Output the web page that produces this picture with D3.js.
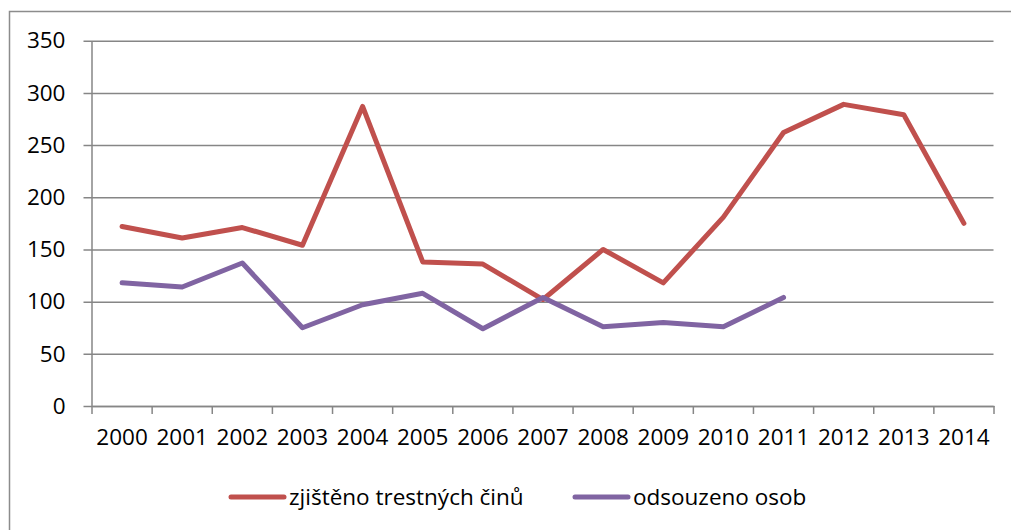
<!DOCTYPE html>
<html>
<head>
<meta charset="utf-8">
<script src="https://cdn.jsdelivr.net/npm/d3@7"></script>
<style>
  body { margin: 0; background: #fff; }
  svg text { font-family: 'Open Sans', sans-serif; fill: #000; }
</style>
</head>
<body>
<div id="chart"></div>
<script>
// data
const years = ['2000', '2001', '2002', '2003', '2004', '2005', '2006', '2007', '2008', '2009', '2010', '2011', '2012', '2013', '2014'];
const crimes = [172, 161, 171, 154, 287, 138, 136, 102, 150, 118, 181, 262, 289, 279, 175];
const convicted = [118, 114, 137, 75, 97, 108, 74, 104, 76, 80, 76, 104];
const yTicks = [0, 50, 100, 150, 200, 250, 300, 350];
const seriesNames = ['zjištěno trestných činů', 'odsouzeno osob'];

let width = 1011;
let height = 530;
let plotLeft = 92, plotRight = 994, plotTop = 40.7, plotBottom = 406;

let svg = d3.select('#chart').append('svg')
    .attr('width', width)
    .attr('height', height);

// outer frame of the chart area
svg.append('rect')
    .attr('x', 9.5).attr('y', 11.5)
    .attr('width', width + 20).attr('height', height + 20)
    .attr('fill', 'none')
    .attr('stroke', '#8c8c8c')
    .attr('stroke-width', 1.5);

let xScale = d3.scaleBand()
    .domain(years)
    .range([plotLeft, plotRight]);

let yScale = d3.scaleLinear()
    .domain([0, 350])
    .range([plotBottom, plotTop]);

// y axis with grid lines
let yAxis = svg.append('g').attr('class', 'y-axis')
    .attr('transform', `translate(${plotLeft - 0.5}, 0)`)
    .call(d3.axisLeft(yScale).tickValues(yTicks).tickSizeInner(-(plotRight - plotLeft)).tickSizeOuter(0).tickPadding(26));
yAxis.select('.domain').attr('stroke', '#868686').attr('stroke-width', 1.5);
yAxis.selectAll('.tick line')
    .attr('x1', -8)
    .attr('stroke', '#868686')
    .attr('stroke-width', 1.5);
yAxis.selectAll('.tick text')
    .attr('font-size', 22.5)
    .attr('font-family', "'Open Sans', sans-serif")
    .attr('fill', '#000');

// x axis: labels at band centres, ticks at band edges
let xAxis = svg.append('g').attr('class', 'x-axis')
    .attr('transform', `translate(0, ${plotBottom})`)
    .call(d3.axisBottom(xScale).tickSize(0).tickPadding(23));
xAxis.select('.domain').attr('stroke', '#868686').attr('stroke-width', 1.5);
xAxis.selectAll('.tick text')
    .attr('font-size', 22.5)
    .attr('font-family', "'Open Sans', sans-serif")
    .attr('fill', '#000');

let edges = years.map(y => xScale(y)).concat([xScale.range()[1]]);
xAxis.selectAll('line.edge').data(edges).enter().append('line')
    .attr('class', 'edge')
    .attr('x1', d => d).attr('x2', d => d)
    .attr('y1', 0).attr('y2', 8)
    .attr('stroke', '#868686')
    .attr('stroke-width', 1.5);

let cx = d => xScale(d) + xScale.bandwidth() / 2;

let line = d3.line()
    .x((d, i) => cx(years[i]))
    .y(d => yScale(d));

svg.append('path')
    .datum(crimes)
    .attr('d', line)
    .attr('fill', 'none')
    .attr('stroke', '#C0504D')
    .attr('stroke-width', 5)
    .attr('stroke-linejoin', 'round')
    .attr('stroke-linecap', 'round');

svg.append('path')
    .datum(convicted)
    .attr('d', line)
    .attr('fill', 'none')
    .attr('stroke', '#8064A2')
    .attr('stroke-width', 5)
    .attr('stroke-linejoin', 'round')
    .attr('stroke-linecap', 'round');

// legend
let legend = svg.append('g').attr('class', 'legend');
let legendItems = [
    { name: seriesNames[0], color: '#C0504D', x: 231 },
    { name: seriesNames[1], color: '#8064A2', x: 575 }
];
legendItems.forEach(item => {
    legend.append('line')
        .attr('x1', item.x).attr('x2', item.x + 53)
        .attr('y1', 497).attr('y2', 497)
        .attr('stroke', item.color)
        .attr('stroke-width', 5)
        .attr('stroke-linecap', 'round');
    legend.append('text')
        .attr('x', item.x + 58)
        .attr('y', 505)
        .attr('font-size', 22.5)
        .text(item.name);
});
</script>
</body>
</html>
